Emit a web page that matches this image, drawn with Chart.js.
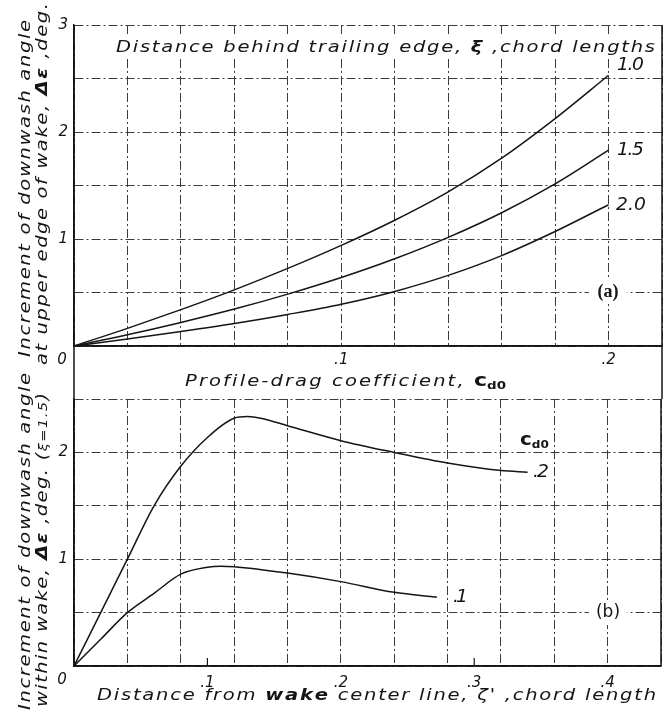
<!DOCTYPE html>
<html><head><meta charset="utf-8">
<script src="https://cdn.jsdelivr.net/npm/chart.js@4.4.1/dist/chart.umd.min.js"></script>
<style>
html,body{margin:0;padding:0;background:#fff;width:669px;height:712px;overflow:hidden}
#wrap{position:relative;width:669px;height:712px}
canvas{position:absolute;left:0}
#ca{top:0}
#cb{top:360px}
</style></head><body>
<div id="wrap"><canvas id="ca" width="669" height="399"></canvas><canvas id="cb" width="669" height="352"></canvas></div>
<script>
// ---------- data ----------
// panel (a): increment of downwash angle vs profile-drag coefficient
const cd0Values = [0, 0.02, 0.04, 0.06, 0.08, 0.10, 0.12, 0.14, 0.16, 0.18, 0.20];
const dEpsXi10  = [0, 0.165, 0.34, 0.525, 0.725, 0.94, 1.175, 1.44, 1.755, 2.125, 2.53];
const dEpsXi15  = [0, 0.105, 0.22, 0.345, 0.485, 0.64, 0.815, 1.015, 1.245, 1.515, 1.83];
const dEpsXi20  = [0, 0.065, 0.135, 0.21, 0.295, 0.39, 0.51, 0.66, 0.845, 1.07, 1.32];
const xiLabels  = ['1.0', '1.5', '2.0'];
// panel (b): increment of downwash angle within wake vs distance from wake center line
const zetaCd02 = [0, 0.02, 0.04, 0.06, 0.08, 0.10, 0.12, 0.13, 0.14, 0.16, 0.20, 0.24, 0.28, 0.32, 0.34];
const dEpsCd02 = [0, 0.50, 1.00, 1.50, 1.87, 2.14, 2.32, 2.335, 2.32, 2.25, 2.11, 2.00, 1.90, 1.83, 1.815];
const zetaCd01 = [0, 0.02, 0.04, 0.06, 0.08, 0.10, 0.11, 0.12, 0.16, 0.20, 0.24, 0.272];
const dEpsCd01 = [0, 0.25, 0.50, 0.68, 0.86, 0.925, 0.935, 0.93, 0.87, 0.79, 0.69, 0.645];
const cd0Labels = ['.2', '.1'];
// tick labels
const topXTickValues = [0.1, 0.2];
const topXTickText   = ['.1', '.2'];
const botXTickValues = [0.1, 0.2, 0.3, 0.4];
const botXTickText   = ['.1', '.2', '.3', '.4'];
const topYTickValues = [1, 2, 3];
const botYTickValues = [1, 2];

// ---------- styling helpers ----------
const FAM = '"DejaVu Sans", sans-serif';
const INK = '#151515';
const GRID = '#3c3c3c';
const DASH = [9, 3, 2, 3];
const SX = 1.22;

function fontStr(size, bold, italic) {
  return (italic === false ? '' : 'italic ') + (bold ? 'bold ' : '') + size + 'px ' + FAM;
}
function seg(t, o) { return Object.assign({ t: t }, o || {}); }
function drawSpaced(ctx, segs, x0, x1, y, size, sx) {
  sx = sx || SX;
  const chars = [];
  for (const s of segs) {
    const f = fontStr(s.size || size, s.bold, s.italic);
    ctx.font = f;
    for (const ch of s.t) {
      chars.push({ ch, f, dy: s.dy || 0, w: ctx.measureText(ch).width * sx, tight: !!s.tight });
    }
  }
  const W = chars.reduce((a, c) => a + c.w, 0);
  const nGaps = chars.filter((c, i) => i > 0 && !c.tight).length;
  const gap = nGaps > 0 ? ((x1 - x0) - W) / nGaps : 0;
  let x = x0;
  ctx.textBaseline = 'alphabetic';
  ctx.textAlign = 'left';
  chars.forEach((c, i) => {
    if (i > 0 && !c.tight) x += gap;
    ctx.save();
    ctx.font = c.f;
    ctx.translate(x, y + c.dy);
    ctx.scale(sx, 1);
    ctx.fillText(c.ch, 0, 0);
    ctx.restore();
    x += c.w;
  });
}
function drawSpacedUp(ctx, segs, bx, yStart, yEnd, size, sx) {
  ctx.save();
  ctx.translate(bx, yStart);
  ctx.rotate(-Math.PI / 2);
  drawSpaced(ctx, segs, 0, yStart - yEnd, 0, size, sx);
  ctx.restore();
}
function whiteRect(ctx, x, y, w, h) { ctx.save(); ctx.fillStyle = '#fff'; ctx.fillRect(x, y, w, h); ctx.restore(); }
function line(ctx, x1, y1, x2, y2, w) {
  ctx.save(); ctx.strokeStyle = INK; ctx.lineWidth = w || 1.5; ctx.setLineDash([]);
  ctx.beginPath(); ctx.moveTo(x1, y1); ctx.lineTo(x2, y2); ctx.stroke(); ctx.restore();
}
const near = (a, b) => Math.abs(a - b) < 1e-6;

function series(xs, ys) { return xs.map((x, i) => ({ x: x, y: ys[i] })); }
function ds(xs, ys) {
  return { data: series(xs, ys), borderColor: INK, borderWidth: 1.5, pointRadius: 0,
           cubicInterpolationMode: 'monotone', fill: false };
}
const tickFont = { family: FAM, size: 15, style: 'italic' };

// ---------- chart (a) ----------
const pluginA = {
  id: 'annA',
  afterDraw(chart) {
    const ctx = chart.ctx;
    const a = chart.chartArea;
    ctx.save();
    ctx.fillStyle = INK;
    // frame
    line(ctx, a.left, a.top, a.left, chart.height);
    line(ctx, a.right, a.top, a.right, chart.height);
    line(ctx, a.left, a.bottom, a.right, a.bottom);
    // inner title
    whiteRect(ctx, 108, 35, 552, 24);
    ctx.fillStyle = INK;
    drawSpaced(ctx, [seg('Distance behind trailing edge, '), seg('ξ', { bold: true }), seg(' ,chord lengths')], 116, 655, 52, 16);
    // curve labels
    drawSpaced(ctx, [seg(xiLabels[0])], 617, 644, 70, 17, 1.1);
    drawSpaced(ctx, [seg(xiLabels[1])], 617, 644, 155, 17, 1.1);
    drawSpaced(ctx, [seg(xiLabels[2])], 616, 646, 210, 17, 1.1);
    // (a)
    whiteRect(ctx, 589, 280, 38, 24);
    ctx.font = 'bold 18px "Liberation Serif", serif';
    ctx.textAlign = 'center'; ctx.textBaseline = 'middle';
    ctx.fillText('(a)', 608, 292);
    // zero label
    ctx.font = fontStr(15);
    ctx.fillText('0', 62, 360);
    // x title between panels
    drawSpaced(ctx, [seg('Profile-drag coefficient, '), seg('c', { bold: true, size: 18, italic: false }),
                     seg('d0', { bold: true, size: 11, dy: 3, tight: true, italic: false })], 185, 506, 386, 16);
    // y title
    drawSpacedUp(ctx, [seg('Increment of downwash angle')], 30, 357, 20, 16);
    drawSpacedUp(ctx, [seg('at upper edge of wake, '), seg('Δε', { bold: true }), seg(' ,deg.')], 47, 365, 3, 16);
    ctx.restore();
  }
};

new Chart(document.getElementById('ca'), {
  type: 'line',
  data: { datasets: [ds(cd0Values, dEpsXi10), ds(cd0Values, dEpsXi15), ds(cd0Values, dEpsXi20)] },
  options: {
    responsive: false, animation: false, devicePixelRatio: 1,
    layout: { padding: { top: 25, right: 7, left: 0, bottom: 0 } },
    plugins: { legend: { display: false }, tooltip: { enabled: false } },
    scales: {
      x: {
        type: 'linear', min: 0, max: 0.22,
        ticks: { stepSize: 0.02, autoSkip: false, maxRotation: 0, color: INK, font: tickFont, padding: 5,
                 callback: v => { const i = topXTickValues.findIndex(t => near(t, v)); return i >= 0 ? topXTickText[i] : ''; } },
        grid: { color: GRID, lineWidth: 1, drawTicks: false },
        border: { display: true, color: INK, width: 1.5, dash: DASH },
        afterFit: s => { s.height = 53; }
      },
      y: {
        min: 0, max: 3,
        ticks: { stepSize: 0.5, autoSkip: false, color: INK, font: tickFont, padding: 6,
                 callback: v => topYTickValues.some(t => near(t, v)) ? String(v) : '' },
        grid: { color: GRID, lineWidth: 1, drawTicks: false },
        border: { display: true, color: INK, width: 1.5, dash: DASH },
        afterFit: s => { s.width = 74; }
      }
    }
  },
  plugins: [pluginA]
});

// ---------- chart (b) ----------
const OFF = 360;
const pluginB = {
  id: 'annB',
  afterDraw(chart) {
    const ctx = chart.ctx;
    const a = chart.chartArea;
    const xs = chart.scales.x;
    ctx.save();
    ctx.fillStyle = INK;
    line(ctx, a.left, a.top, a.left, a.bottom);
    line(ctx, a.right, a.top, a.right, a.bottom);
    line(ctx, a.left, a.bottom, a.right, a.bottom);
    // short tick marks at .1 and .3
    [botXTickValues[0], botXTickValues[2]].forEach(v => {
      const px = xs.getPixelForValue(v);
      line(ctx, px, a.bottom, px, a.bottom - 8, 1.2);
    });
    // curve labels
    ctx.fillStyle = INK;
    drawSpaced(ctx, [seg('c', { bold: true, size: 18, italic: false }), seg('d0', { bold: true, size: 11, dy: 3, tight: true, italic: false })], 520, 548, 445 - OFF, 16, 1.1);
    drawSpaced(ctx, [seg(cd0Labels[0])], 533, 549, 477 - OFF, 17, 1.1);
    drawSpaced(ctx, [seg(cd0Labels[1])], 453, 468, 602 - OFF, 17, 1.1);
    // (b)
    whiteRect(ctx, 589, 601 - OFF, 38, 24);
    ctx.fillStyle = INK;
    ctx.font = '17px "DejaVu Sans", sans-serif';
    ctx.textAlign = 'center'; ctx.textBaseline = 'middle';
    ctx.fillText('(b)', 608, 613 - OFF);
    ctx.font = fontStr(15);
    ctx.fillText('0', 62, 680 - OFF);
    // x title
    drawSpaced(ctx, [seg('Distance from '), seg('wake', { bold: true }), seg(' center line, ζ\' ,chord length')], 97, 656, 700 - OFF, 16);
    // y title
    drawSpacedUp(ctx, [seg('Increment of downwash angle')], 30, 710 - OFF, 373 - OFF, 16);
    drawSpacedUp(ctx, [seg('within wake, '), seg('Δε', { bold: true }), seg(' ,deg. ('), seg('ξ=1.5', { size: 12 }), seg(')')], 47, 707 - OFF, 393 - OFF, 16);
    ctx.restore();
  }
};

const gridStep = 0.04;
new Chart(document.getElementById('cb'), {
  type: 'line',
  data: { datasets: [ds(zetaCd02, dEpsCd02), ds(zetaCd01, dEpsCd01)] },
  options: {
    responsive: false, animation: false, devicePixelRatio: 1,
    layout: { padding: { top: 39, right: 7, left: 0, bottom: 0 } },
    plugins: { legend: { display: false }, tooltip: { enabled: false } },
    scales: {
      x: {
        type: 'linear', min: 0, max: 0.44,
        afterBuildTicks: s => {
          const vals = [];
          for (let i = 0; i <= 11; i++) vals.push(+(i * gridStep).toFixed(4));
          botXTickValues.forEach(v => { if (!vals.some(g => near(g, v))) vals.push(v); });
          vals.sort((p, q) => p - q);
          s.ticks = vals.map(v => ({ value: v }));
        },
        ticks: { autoSkip: false, maxRotation: 0, color: INK, font: tickFont, padding: 8,
                 callback: v => { const i = botXTickValues.findIndex(t => near(t, v)); return i >= 0 ? botXTickText[i] : ''; } },
        grid: { lineWidth: 1, drawTicks: false,
                color: c => (c.tick && Math.abs(c.tick.value / gridStep - Math.round(c.tick.value / gridStep)) > 1e-6) ? 'rgba(0,0,0,0)' : GRID },
        border: { display: true, color: INK, width: 1.5, dash: DASH },
        afterFit: s => { s.height = 46; }
      },
      y: {
        min: 0, max: 2.5,
        ticks: { stepSize: 0.5, autoSkip: false, color: INK, font: tickFont, padding: 6,
                 callback: v => botYTickValues.some(t => near(t, v)) ? String(v) : '' },
        grid: { color: GRID, lineWidth: 1, drawTicks: false },
        border: { display: true, color: INK, width: 1.5, dash: DASH },
        afterFit: s => { s.width = 74; }
      }
    }
  },
  plugins: [pluginB]
});
</script>
</body></html>
